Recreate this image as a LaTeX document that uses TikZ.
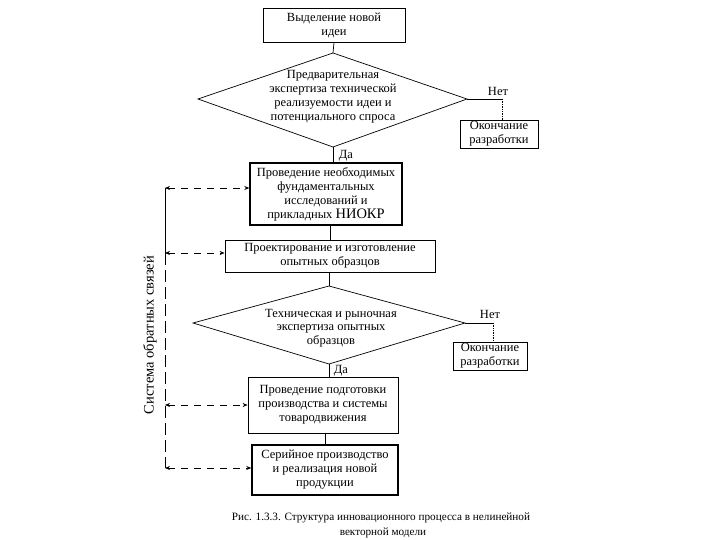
\documentclass[tikz,border=0pt]{standalone}
\usepackage{fontspec}
\setmainfont{Liberation Serif}
\usetikzlibrary{arrows.meta}
\begin{document}
\begin{tikzpicture}[x=1pt,y=-1pt,
  font=\fontsize{12.5}{14}\selectfont,
  box/.style={draw, line width=0.8pt, align=center, inner sep=1pt},
  thickbox/.style={box, line width=1.4pt},
  flow/.style={line width=0.7pt},
  dotline/.style={line width=0.7pt, densely dotted},
  fbarrow/.style={line width=0.7pt, dash pattern=on 7pt off 6pt, {Stealth[length=5pt,width=4pt]}-{Stealth[length=5pt,width=4pt]}},
  lbl/.style={inner sep=1pt, font=\fontsize{12.5}{13}\selectfont}]
\useasboundingbox (0,0) rectangle (720,540);

% top box
\node[box, minimum width=142pt, minimum height=34pt] (idea) at (334,25) {Выделение новой\\идеи};

% diamond 1
\coordinate (d1t) at (333,53);
\coordinate (d1l) at (198,99);
\coordinate (d1r) at (467,99);
\coordinate (d1b) at (333,147);
\draw[flow] (d1t) -- (d1r) -- (d1b) -- (d1l) -- cycle;
\node[align=center] (q1) at (333,97) {Предварительная\\экспертиза технической\\реализуемости идеи и\\потенциального спроса};
\draw[flow] (idea.south) -- (d1t);

% end 1
\node[box, minimum width=78pt, minimum height=28pt] (end1) at (499,134) {Окончание\\разработки};
\coordinate (n1) at (502,99);
\draw[flow] (d1r) -- (n1);
\draw[dotline] (n1) -- (n1 |- end1.north);
\node[lbl] (net1) at (498,91) {Нет};

% box 2
\node[thickbox, minimum width=152pt, minimum height=62pt] (b2) at (326,194) {Проведение необходимых\\фундаментальных\\исследований и\\прикладных {\fontsize{14.5}{14}\selectfont НИОКР}};
\draw[flow] (d1b) -- (d1b |- b2.north);
\node[lbl] (da1) at (346,156) {Да};

% box 3
\node[box, minimum width=210pt, minimum height=32pt] (b3) at (330,256) {Проектирование и изготовление\\опытных образцов};
\draw[flow] (b3.north |- b2.south) -- (b3.north);

% diamond 2
\coordinate (d2t) at (329,286);
\coordinate (d2l) at (193,323);
\coordinate (d2r) at (465,323);
\coordinate (d2b) at (329,364);
\draw[flow] (d2t) -- (d2r) -- (d2b) -- (d2l) -- cycle;
\node[align=center, font=\fontsize{12.5}{13.5}\selectfont] (q2) at (331,328) {Техническая и рыночная\\экспертиза опытных\\образцов};
\draw[flow] (d2t |- b3.south) -- (d2t);

% end 2
\node[box, minimum width=74pt, minimum height=28pt] (end2) at (490,356) {Окончание\\разработки};
\coordinate (n2) at (493,323);
\draw[flow] (d2r) -- (n2);
\draw[dotline] (n2) -- (n2 |- end2.north);
\node[lbl] (net2) at (490,314) {Нет};

% box 4
\node[box, minimum width=150pt, minimum height=56pt] (b4) at (323,405) {Проведение подготовки\\производства и системы\\товародвижения};
\draw[flow] (d2b) -- (d2b |- b4.north);
\node[lbl] (da2) at (341,371) {Да};

% box 5
\node[thickbox, minimum width=146pt, minimum height=50pt] (b5) at (325,470) {Серийное производство\\и реализация новой\\продукции};
\draw[flow] (b4.south -| b5.north) -- (b5.north);

% feedback system
\coordinate (f1) at (165,188);
\coordinate (f2) at (165,253);
\coordinate (f3) at (165,405);
\coordinate (f4) at (165,468);
\draw[line width=0.8pt] (f1) -- (f2);
\draw[line width=1pt, dash pattern=on 12pt off 5pt] (f2) -- (f4);
\draw[fbarrow] (f1) -- (f1 -| b2.west);
\draw[fbarrow] (f2) -- (f2 -| b3.west);
\draw[fbarrow] (f3) -- (f3 -| b4.west);
\draw[fbarrow] (f4) -- (f4 -| b5.west);
\node[rotate=90, font=\fontsize{14.5}{15}\selectfont] (fbtext) at (150,335) {Система обратных связей};

% caption
\node[font=\fontsize{11.2}{12}\selectfont] (cap1) at (381,518) {Рис. 1.3.3. Структура инновационного процесса в нелинейной};
\node[font=\fontsize{11.2}{12}\selectfont] (cap2) at (383,533) {векторной модели};
\end{tikzpicture}
\end{document}
